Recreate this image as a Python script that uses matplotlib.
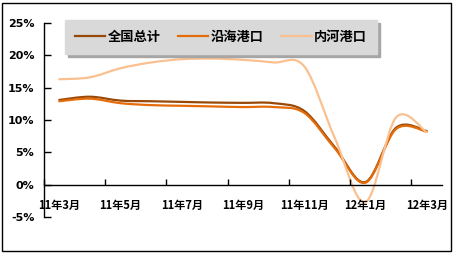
import numpy as np
import matplotlib
matplotlib.use('Agg')
import matplotlib.pyplot as plt
from matplotlib.path import Path
from matplotlib.patches import PathPatch, Rectangle
from matplotlib.lines import Line2D

plt.rcParams['font.family'] = ['Noto Sans CJK SC', 'DejaVu Sans']

months = ['11年3月', '11年4月', '11年5月', '11年6月', '11年7月', '11年8月', '11年9月',
          '11年10月', '11年11月', '11年12月', '12年1月', '12年2月', '12年3月']
total = [13.1, 13.6, 13.0, 12.9, 12.8, 12.7, 12.65, 12.6, 11.4, 5.8, 0.4, 8.8, 8.3]
coastal = [12.9, 13.3, 12.6, 12.3, 12.2, 12.1, 12.0, 12.0, 11.1, 5.6, 0.3, 8.6, 8.2]
inland = [16.3, 16.6, 18.0, 18.9, 19.4, 19.5, 19.3, 18.9, 18.3, 7.2, -2.7, 10.4, 8.1]
names = ['全国总计', '沿海港口', '内河港口']
colors = ['#984807', '#E46C0A', '#FAC090']


def smooth_path(xs, ys):
    # excel-style smoothed line: bezier segments through every point
    p = np.column_stack([xs, ys]).astype(float)
    n = len(p)
    verts = [p[0]]
    codes = [Path.MOVETO]
    for i in range(n - 1):
        prev = p[i - 1] if i > 0 else p[i]
        nxt = p[i + 2] if i + 2 < n else p[i + 1]
        c1 = p[i] + (p[i + 1] - prev) / 6
        c2 = p[i + 1] - (nxt - p[i]) / 6
        verts += [c1, c2, p[i + 1]]
        codes += [Path.CURVE4] * 3
    return Path(verts, codes)


fig = plt.figure(figsize=(4.57, 2.57), dpi=100)
fig.patches.append(Rectangle((2 / 457, 6 / 257), 449 / 457, 248 / 257, transform=fig.transFigure,
                             fill=False, edgecolor='black', linewidth=1.0))
ax = fig.add_axes([44 / 457, 40 / 257, 398 / 457, 194 / 257])

x = np.arange(len(months))
for vals, c in zip([total, coastal, inland], colors):
    ax.add_patch(PathPatch(smooth_path(x, vals), facecolor='none', edgecolor=c,
                           linewidth=1.6, capstyle='round'))

ax.set_xlim(-0.5, len(months) - 0.5)
ax.set_ylim(-5, 25)
ax.set_yticks([-5, 0, 5, 10, 15, 20, 25])
ax.set_yticklabels([f'{v}%' for v in [-5, 0, 5, 10, 15, 20, 25]],
                   fontsize=8, fontweight='bold', family='DejaVu Sans')
ax.tick_params(axis='y', direction='in', length=5, width=1, pad=7)

ax.spines['top'].set_visible(False)
ax.spines['right'].set_visible(False)
ax.spines['bottom'].set_position(('data', 0))
ax.spines['left'].set_linewidth(1)
ax.spines['bottom'].set_linewidth(1)

ax.set_xticks(np.arange(-0.5, len(months) - 1, 2))
ax.set_xticklabels([])
ax.set_xticks(x[::2], minor=True)
ax.set_xticklabels(months[::2], minor=True, fontsize=8, fontweight='bold')
ax.tick_params(axis='x', which='major', direction='in', length=4, width=1)
ax.tick_params(axis='x', which='minor', length=0, pad=10)

handles = [Line2D([], [], color=c, lw=1.6) for c in colors]
leg = ax.legend(handles, names, loc='upper left', bbox_to_anchor=(65 / 457, 1 - 20 / 257),
                bbox_transform=fig.transFigure, borderaxespad=0, ncol=3, frameon=True,
                fancybox=False, facecolor='#D9D9D9', edgecolor='#D9D9D9', framealpha=1,
                prop={'weight': 'bold', 'size': 9.5}, handlelength=2.3, handletextpad=0.2,
                columnspacing=1.3, borderpad=0.75,
                shadow={'color': '#A6A6A6', 'alpha': 1})

fig.savefig('out.png', dpi=100, facecolor='white')
